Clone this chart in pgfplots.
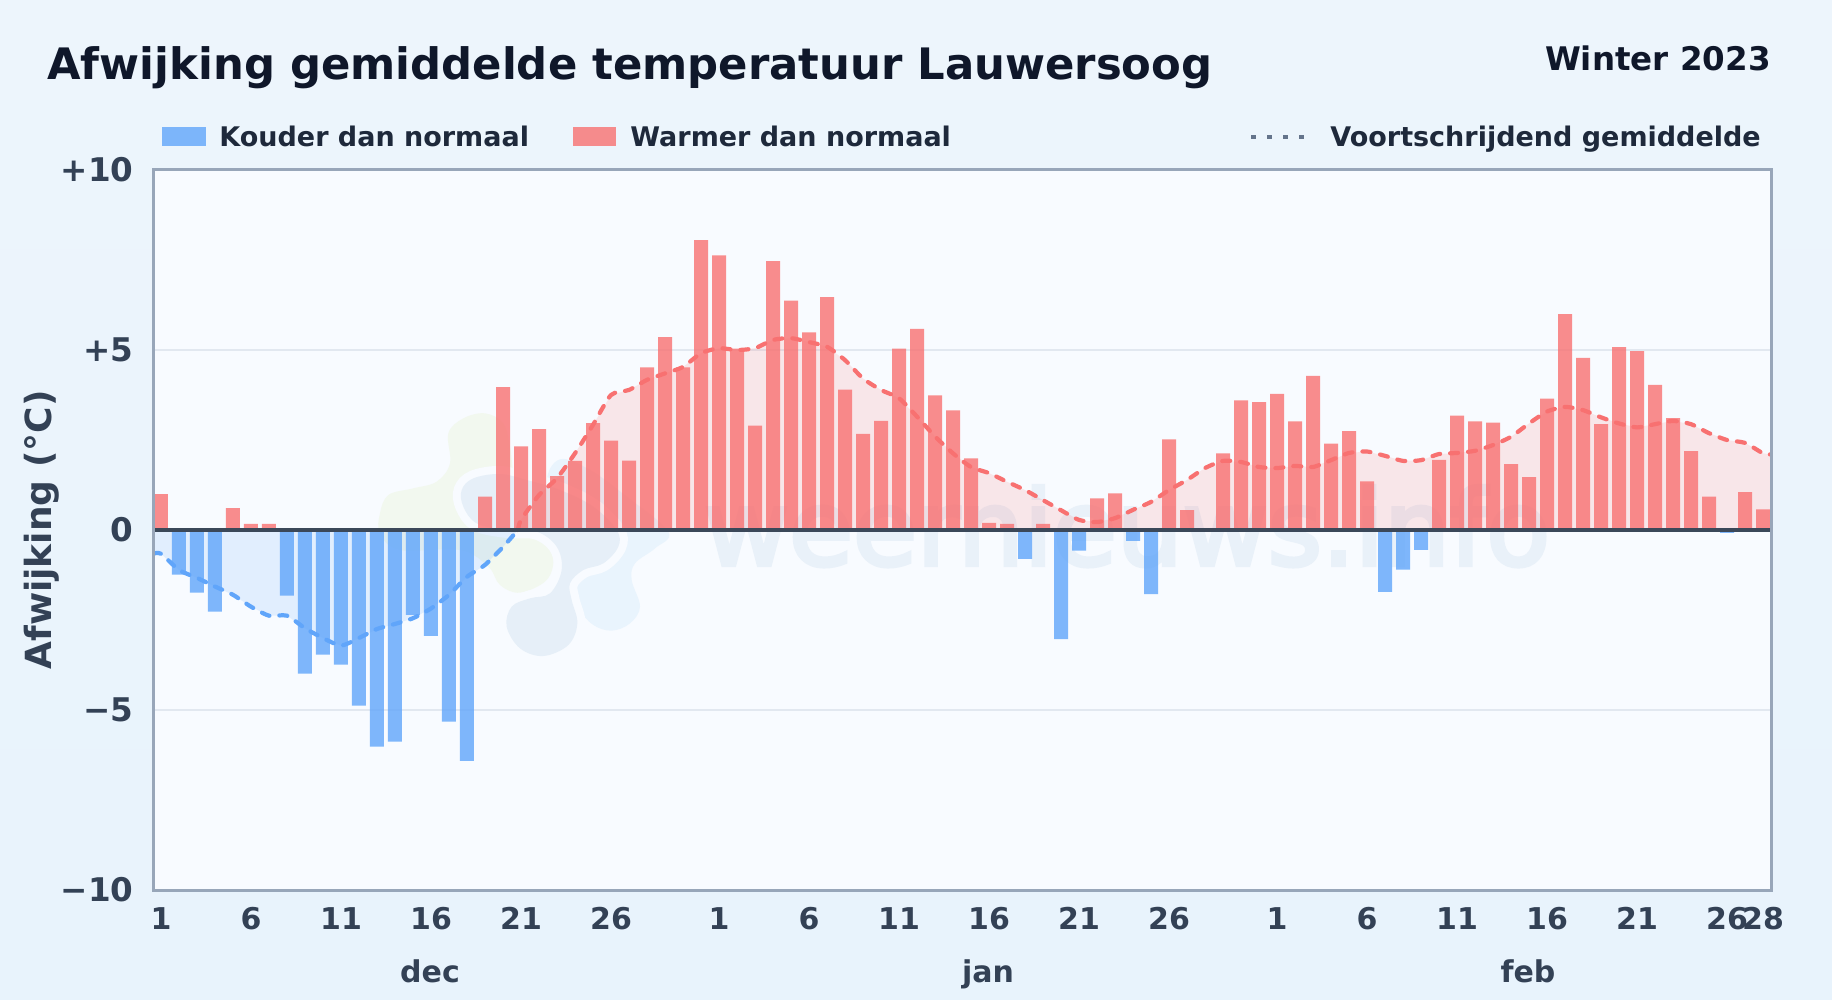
\documentclass[border=0pt]{standalone}
\usepackage{fontspec}
\setmainfont{DejaVu Sans}
\newfontfamily\wmfont[FakeBold=4]{DejaVu Sans}
\usepackage{pgfplots}
\usepackage{pgfplotstable}
\pgfplotsset{compat=1.18}

\definecolor{titlecol}{HTML}{0F172A}
\definecolor{legendcol}{HTML}{1E293B}
\definecolor{tickcol}{HTML}{334155}
\definecolor{framecol}{HTML}{98A6B9}
\definecolor{gridcol}{HTML}{E2E8F0}
\definecolor{zerocol}{HTML}{3B4859}
\definecolor{plotbg}{HTML}{F8FBFF}
\definecolor{pagebga}{HTML}{EDF5FC}
\definecolor{pagebgb}{HTML}{E8F3FC}
\definecolor{warm}{HTML}{F87171}
\definecolor{cold}{HTML}{60A5FA}
\definecolor{dotcol}{HTML}{64748B}
\definecolor{wmtext}{HTML}{E9F1F9}
\definecolor{wmgreen}{HTML}{F2F8EF}
\definecolor{wmnavy}{HTML}{E6EFF8}
\definecolor{wmblue}{HTML}{E9F4FD}

% day number counted from 1 dec
\pgfplotstableread{
day val
1 1.00
5 0.61
6 0.17
7 0.17
19 0.93
20 3.97
21 2.32
22 2.80
23 1.50
24 1.92
25 2.97
26 2.48
27 1.93
28 4.52
29 5.36
30 4.52
31 8.05
32 7.63
33 5.04
34 2.90
35 7.47
36 6.37
37 5.49
38 6.47
39 3.90
40 2.67
41 3.03
42 5.04
43 5.59
44 3.74
45 3.32
46 1.99
47 0.20
48 0.17
50 0.17
53 0.88
54 1.02
57 2.52
58 0.55
60 2.13
61 3.60
62 3.55
63 3.78
64 3.02
65 4.28
66 2.40
67 2.75
68 1.35
72 1.95
73 3.18
74 3.02
75 2.98
76 1.83
77 1.47
78 3.65
79 6.00
80 4.78
81 2.94
82 5.08
83 4.97
84 4.03
85 3.11
86 2.19
87 0.93
89 1.05
90 0.57
}\warmbars

\pgfplotstableread{
day val
2 -1.24
3 -1.74
4 -2.27
8 -1.82
9 -3.99
10 -3.46
11 -3.74
12 -4.88
13 -6.02
14 -5.88
15 -2.36
16 -2.94
17 -5.32
18 -6.41
49 -0.80
51 -3.03
52 -0.57
55 -0.30
56 -1.78
69 -1.72
70 -1.10
71 -0.55
88 -0.08
}\coldbars

\pgfplotstableread{
day val
0.556 -0.66
1 -0.66
2 -1.11
3 -1.33
4 -1.57
5 -1.80
6 -2.13
7 -2.38
8 -2.38
9 -2.73
10 -3.00
11 -3.21
12 -3.00
13 -2.75
14 -2.61
15 -2.45
16 -2.18
17 -1.80
18 -1.30
19 -0.97
20 -0.47
20.83 0
}\macold

\pgfplotstableread{
day val
20.83 0
21 0.28
22 0.97
23 1.44
24 2.13
25 2.92
26 3.75
27 3.89
28 4.17
29 4.35
30 4.53
31 4.91
32 5.05
33 5.00
34 5.05
35 5.28
36 5.33
37 5.22
38 5.09
39 4.72
40 4.21
41 3.89
42 3.66
43 3.15
44 2.60
45 2.13
46 1.75
47 1.58
48 1.34
49 1.11
50 0.83
51 0.55
52 0.28
53 0.22
54 0.33
55 0.56
56 0.78
57 1.11
58 1.39
59 1.72
60 1.92
61 1.89
62 1.75
63 1.72
64 1.78
65 1.75
66 1.94
67 2.14
68 2.18
69 2.06
70 1.92
71 1.94
72 2.11
73 2.14
74 2.20
75 2.36
76 2.59
77 2.96
78 3.29
79 3.42
80 3.33
81 3.13
82 2.96
83 2.85
84 2.94
85 3.03
86 2.94
87 2.69
88 2.50
89 2.42
90 2.13
90.444 2.10
}\mawarm

\begin{document}
\begin{tikzpicture}[x=0.5pt,y=-0.5pt]
% page and plot background
\shade[left color=pagebga,right color=pagebgb,shading angle=0] (0,0) rectangle (1832,1000);
\fill[plotbg] (153,170) rectangle (1771,890);

% watermark under the data
\begin{scope}[shift={(360,400)},x=0.16667pt,y=-0.16667pt]
\fill[wmgreen] plot[smooth cycle,tension=0.6] coordinates {(60,340)(85,285)(160,265)(230,245)(270,190)(265,100)(310,55)(375,40)(430,70)(450,140)(470,250)(550,390)(580,470)(560,540)(480,578)(420,555)(385,500)(300,450)(120,450)(60,400)};
\fill[wmblue] plot[smooth cycle,tension=0.6] coordinates {(600,178)(690,210)(800,290)(925,395)(885,445)(825,490)(815,540)(840,620)(810,670)(755,692)(700,675)(660,630)(640,570)(600,400)(560,250)};
\fill[wmnavy,draw=plotbg,line width=8pt] plot[smooth cycle,tension=0.6] coordinates {(305,270)(340,235)(420,222)(500,240)(600,270)(700,320)(770,390)(775,440)(730,490)(670,510)(630,550)(635,600)(652,670)(625,735)(550,768)(480,745)(440,680)(455,620)(510,595)(570,580)(605,510)(590,440)(530,395)(440,390)(350,370)(310,320)};
\fill[wmnavy] plot[smooth cycle,tension=0.6] coordinates {(305,270)(340,235)(420,222)(500,240)(600,270)(700,320)(770,390)(775,440)(730,490)(670,510)(630,550)(635,600)(652,670)(625,735)(550,768)(480,745)(440,680)(455,620)(510,595)(570,580)(605,510)(590,440)(530,395)(440,390)(350,370)(310,320)};
\end{scope}
\node[anchor=base,inner sep=0pt,font=\fontsize{52}{52}\selectfont\wmfont,text=wmtext] at (1127,565) {weernieuws.info};

\begin{axis}[
at={(76.5pt,-445pt)},anchor=south west,
scale only axis,width=809pt,height=360pt,
xmin=0.556,xmax=90.444,ymin=-10,ymax=10,
axis line style={draw=none},
major tick length=0pt,
ytick={-10,-5,0,5,10},
yticklabels={−10,−5,0,+5,+10},
xtick={1,6,11,16,21,26,32,37,42,47,52,57,63,68,73,78,83,88,90},
xticklabels={1,6,11,16,21,26,1,6,11,16,21,26,1,6,11,16,21,26,28},
ymajorgrids,
grid style={gridcol,line width=1pt},
xticklabel style={font=\fontsize{15}{15}\selectfont\bfseries,text=tickcol,yshift=-5.3pt},
yticklabel style={font=\fontsize{16.3}{16.3}\selectfont\bfseries,text=tickcol,xshift=-6.2pt},
ylabel={Afwijking (°C)},
ylabel style={font=\fontsize{18}{18}\selectfont\bfseries,text=tickcol,yshift=-6pt},
]
\addplot[draw=none,fill=cold,fill opacity=0.15] table[x=day,y=val] {\macold} \closedcycle;
\addplot[draw=none,fill=warm,fill opacity=0.15] table[x=day,y=val] {\mawarm} \closedcycle;
\addplot[ybar,bar shift=0pt,bar width=7pt,draw=none,fill=cold,fill opacity=0.8] table[x=day,y=val] {\coldbars};
\addplot[ybar,bar shift=0pt,bar width=7pt,draw=none,fill=warm,fill opacity=0.8] table[x=day,y=val] {\warmbars};
\addplot[smooth,tension=0.4,cold,line width=2.1pt,line cap=round,dash pattern=on 4pt off 5pt] table[x=day,y=val] {\macold};
\addplot[smooth,tension=0.4,warm,line width=2.1pt,line cap=round,dash pattern=on 4pt off 5pt] table[x=day,y=val] {\mawarm};
\draw[zerocol,line width=2pt] (axis cs:0.556,0) -- (axis cs:90.444,0);
\end{axis}
\draw[framecol,line width=1.5pt] (153,170) rectangle (1771,890);

% titles
\node[anchor=base west,inner sep=0pt,font=\fontsize{21.67}{21.67}\selectfont\bfseries,text=titlecol] at (47,80) {Afwijking gemiddelde temperatuur Lauwersoog};
\node[anchor=base east,inner sep=0pt,font=\fontsize{16.25}{16.25}\selectfont\bfseries,text=titlecol] at (1771,71) {Winter 2023};

% legend
\fill[cold,opacity=0.8] (162,127) rectangle (206,146);
\node[anchor=base west,inner sep=0pt,font=\fontsize{13.5}{13.5}\selectfont\bfseries,text=legendcol] at (219,147) {Kouder dan normaal};
\fill[warm,opacity=0.8] (573,127) rectangle (616,146);
\node[anchor=base west,inner sep=0pt,font=\fontsize{13.5}{13.5}\selectfont\bfseries,text=legendcol] at (630,147) {Warmer dan normaal};
\draw[dotcol,line width=2.4pt,dash pattern=on 2.5pt off 5.5pt] (1251,137) -- (1306,137);
\node[anchor=base west,inner sep=0pt,font=\fontsize{13.5}{13.5}\selectfont\bfseries,text=legendcol] at (1330,147) {Voortschrijdend gemiddelde};

% month names under the day numbers
\foreach \m/\mx in {dec/430,jan/988,feb/1528}
  \node[anchor=base,inner sep=0pt,font=\fontsize{15}{15}\selectfont\bfseries,text=tickcol] at (\mx,982) {\m};
\end{tikzpicture}
\end{document}
